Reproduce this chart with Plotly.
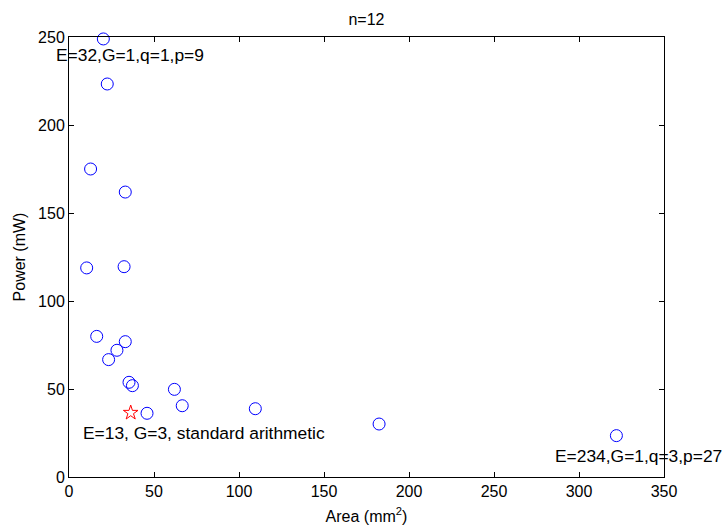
import plotly.graph_objects as go

area = [20.2, 22.5, 12.7, 33.1, 10.4, 32.4, 16.3, 33.1, 28.2, 23.3, 35.3, 37.3,
        62.0, 66.6, 45.9, 109.6, 182.4, 322.0]
power = [248.9, 223.3, 175.0, 161.9, 118.8, 119.5, 79.9, 76.9, 72.0, 66.7, 53.8, 51.9,
         49.8, 40.5, 36.2, 38.8, 30.1, 23.5]
std_area = [36.3]
std_power = [36.5]

labels = ["E=32,G=1,q=1,p=9", "E=13, G=3, standard arithmetic", "E=234,G=1,q=3,p=27"]
label_x = [-9.0, 7.0, 284.5]
label_y = [239.5, 24.8, 11.9]

FONT = "Liberation Sans, Arial, sans-serif"
FS = 16
AFS = 17.4

fig = go.Figure()
fig.add_trace(go.Scatter(x=area, y=power, mode="markers",
                         marker=dict(symbol="circle-open", size=12, color="#0000ff",
                                     line=dict(width=1, color="#0000ff")),
                         cliponaxis=False, showlegend=False))
fig.add_trace(go.Scatter(x=std_area, y=std_power, mode="markers",
                         marker=dict(symbol="star-open", size=11, color="#ff0000",
                                     line=dict(width=1, color="#ff0000")),
                         cliponaxis=False, showlegend=False))

X_MIN, X_MAX = 0, 350
for t, x, y in zip(labels, label_x, label_y):
    if x < X_MIN:
        fig.add_annotation(x=(x - X_MIN) / (X_MAX - X_MIN), y=y, xref="paper", yref="y",
                           text=t, showarrow=False, xanchor="left", yanchor="middle",
                           font=dict(family=FONT, size=AFS, color="black"))
    else:
        fig.add_annotation(x=x, y=y, xref="x", yref="y", text=t, showarrow=False,
                           xanchor="left", yanchor="middle",
                           font=dict(family=FONT, size=AFS, color="black"))

axis_common = dict(showline=True, linecolor="black", linewidth=1, mirror="ticks",
                   ticks="inside", ticklen=5, tickcolor="black", showgrid=False,
                   zeroline=False, automargin=False,
                   tickfont=dict(family=FONT, size=FS, color="black"))

fig.update_xaxes(range=[X_MIN, X_MAX], tickvals=[0, 50, 100, 150, 200, 250, 300, 350],
                 title=dict(text="Area (mm<sup>2</sup>)", font=dict(family=FONT, size=FS, color="black"),
                            standoff=11),
                 **axis_common)
fig.update_yaxes(range=[0, 250], tickvals=[0, 50, 100, 150, 200, 250],
                 title=dict(text="Power (mW)", font=dict(family=FONT, size=FS, color="black"),
                            standoff=8),
                 **axis_common)

fig.update_layout(
    width=723, height=529,
    margin=dict(l=69, r=59, t=37, b=52),
    paper_bgcolor="white", plot_bgcolor="white",
    title=dict(text="n=12", x=(69 + 664) / 2 / 723, xanchor="center", y=1 - 19 / 529,
               yanchor="middle", font=dict(family=FONT, size=FS, color="black")),
    font=dict(family=FONT, size=FS, color="black"),
)

fig.write_html("out.html")
